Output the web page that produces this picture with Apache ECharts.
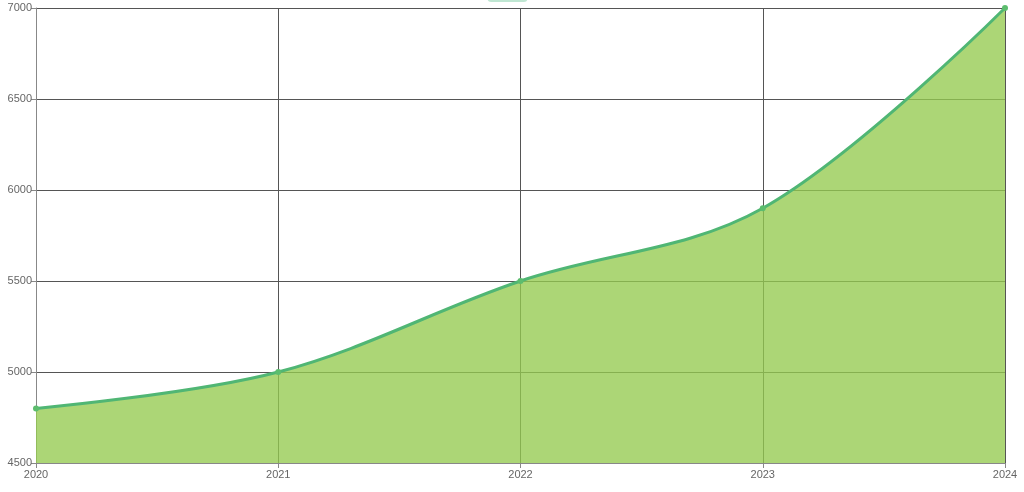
<!DOCTYPE html>
<html>
<head>
<meta charset="utf-8">
<script src="https://cdn.jsdelivr.net/npm/echarts@6/dist/echarts.min.js"></script>
<style>
html, body { margin: 0; padding: 0; background: #fff; }
#chart { width: 1024px; height: 492px; }
</style>
</head>
<body>
<div id="chart"></div>
<script>
var years = ['2020', '2021', '2022', '2023', '2024'];
var values = [4800, 5000, 5500, 5900, 7000];
var seriesName = 'Revenue';

var myChart = echarts.init(document.getElementById('chart'));
var option = {
    animation: false,
    legend: {
        top: -17,
        left: 'center',
        icon: 'roundRect',
        itemWidth: 40,
        itemHeight: 14,
        textStyle: { color: '#fff', fontSize: 1 },
        data: [{ name: seriesName, itemStyle: { color: '#bfe6d2' } }]
    },
    grid: { left: 36, right: 19, top: 8, bottom: 29 },
    xAxis: {
        type: 'category',
        data: years,
        boundaryGap: false,
        axisLine: { lineStyle: { color: '#888' } },
        axisTick: { show: true, lineStyle: { color: '#888' } },
        axisLabel: { color: '#666', fontSize: 11, fontFamily: 'Arial', margin: 6 },
        splitLine: { show: true, lineStyle: { color: '#555', width: 1 } }
    },
    yAxis: {
        type: 'value',
        min: 4500,
        max: 7000,
        interval: 500,
        axisLine: { show: true, lineStyle: { color: '#888' } },
        axisTick: { show: true, length: 5, lineStyle: { color: '#888' } },
        axisLabel: {
            color: '#666', fontSize: 11, fontFamily: 'Arial', margin: 4,
            formatter: function (v) { return String(v); }
        },
        splitLine: { show: true, lineStyle: { color: '#555', width: 1 } }
    },
    series: [{
        name: seriesName,
        type: 'line',
        data: values,
        smooth: 0.35,
        symbol: 'circle',
        symbolSize: 6,
        itemStyle: { color: '#5cbd6e' },
        lineStyle: { color: '#50b674', width: 3 },
        areaStyle: { color: '#95cb4f', opacity: 0.78 }
    }]
};
myChart.setOption(option);
</script>
</body>
</html>
